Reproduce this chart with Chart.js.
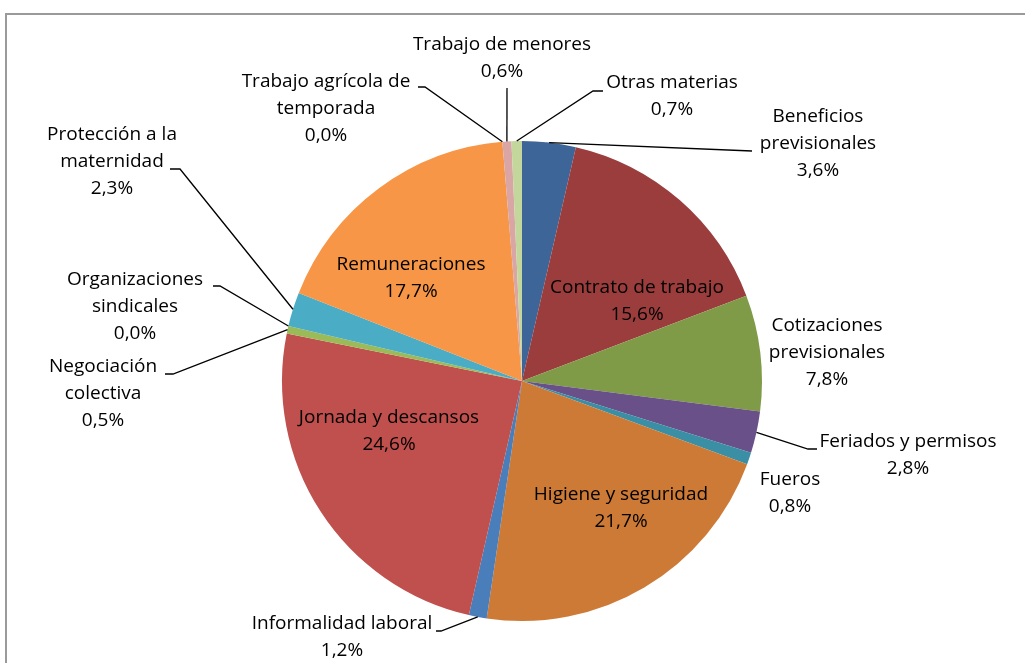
<!DOCTYPE html>
<html>
<head>
<meta charset="utf-8">
<script src="https://cdn.jsdelivr.net/npm/chart.js@4.4.0/dist/chart.umd.min.js"></script>
<style>
    html, body { margin: 0; padding: 0; background: #fff; }
    #wrap { width: 1025px; height: 663px; position: relative; }
</style>
</head>
<body>
<div id="wrap"><canvas id="pie-chart"></canvas></div>
<script>
/* Chart data */
const CATEGORIES = [
    'Beneficios previsionales',
    'Contrato de trabajo',
    'Cotizaciones previsionales',
    'Feriados y permisos',
    'Fueros',
    'Higiene y seguridad',
    'Informalidad laboral',
    'Jornada y descansos',
    'Negociación colectiva',
    'Organizaciones sindicales',
    'Protección a la maternidad',
    'Remuneraciones',
    'Trabajo agrícola de temporada',
    'Trabajo de menores',
    'Otras materias'
];

const VALUES = [3.6, 15.6, 7.8, 2.8, 0.8, 21.7, 1.2, 24.6, 0.5, 0.0, 2.3, 17.7, 0.0, 0.6, 0.7];

const COLORS = [
    '#3e6597', '#9c3d3d', '#7f9b48', '#6a5088', '#3a8fa5',
    '#cd7a37', '#4a7ebb', '#c0504d', '#9bbb59', '#8064a2',
    '#4bacc6', '#f79646', '#aabad7', '#d9a6a5', '#c3d69b'
];

/* Label layout: center x, y of first line, words per line, leader elbow + tail */
const LABEL_LAYOUT = [
    { x: 818, y: 117, wrap: [1, 1], elbow: [752, 151], tail: null },
    { x: 637, y: 288, wrap: [3] },
    { x: 827, y: 326, wrap: [1, 1] },
    { x: 908, y: 442, wrap: [3], elbow: [808, 449], tail: 817 },
    { x: 790, y: 480, wrap: [1] },
    { x: 621, y: 495, wrap: [3] },
    { x: 342, y: 624, wrap: [2], elbow: [441, 631], tail: 436 },
    { x: 389, y: 418, wrap: [3] },
    { x: 103, y: 367, wrap: [1, 1], elbow: [173, 374], tail: 165 },
    { x: 135, y: 280, wrap: [1, 1], elbow: [220, 286], tail: 213 },
    { x: 112, y: 135, wrap: [3, 1], elbow: [180, 169], tail: 170 },
    { x: 411, y: 265, wrap: [1] },
    { x: 326, y: 82, wrap: [3, 1], elbow: [425, 87], tail: 418 },
    { x: 502, y: 45, wrap: [3], elbow: [507, 88], tail: null },
    { x: 672, y: 83, wrap: [2], elbow: [593, 91], tail: 603 }
];

const LINE_HEIGHT = 27;
const FONT = '19px "Open Sans", sans-serif';

function splitLines(name, wrap) {
    const words = name.split(' ');
    const lines = [];
    let i = 0;
    for (const n of wrap) {
        lines.push(words.slice(i, i + n).join(' '));
        i += n;
    }
    if (i < words.length) lines.push(words.slice(i).join(' '));
    return lines;
}

/* Frame round the chart */
const framePlugin = {
    id: 'frame',
    beforeDraw(chart) {
        const ctx = chart.ctx;
        ctx.save();
        ctx.strokeStyle = '#9a9a9a';
        ctx.lineWidth = 2;
        ctx.strokeRect(6, 14, 1100, 700);
        ctx.restore();
    }
};

/* Data labels with leader lines */
const labelPlugin = {
    id: 'pieLabels',
    afterDatasetsDraw(chart) {
        const ctx = chart.ctx;
        const meta = chart.getDatasetMeta(0);
        ctx.save();
        ctx.font = FONT;
        ctx.fillStyle = '#000';
        ctx.textAlign = 'center';
        ctx.textBaseline = 'middle';
        meta.data.forEach((arc, i) => {
            const lay = LABEL_LAYOUT[i];
            const value = VALUES[i].toFixed(1).replace('.', ',') + '%';
            const lines = splitLines(CATEGORIES[i], lay.wrap).concat([value]);
            lines.forEach((txt, k) => {
                ctx.fillText(txt, lay.x, lay.y + k * LINE_HEIGHT);
            });
            if (lay.elbow) {
                const mid = (arc.startAngle + arc.endAngle) / 2;
                const sx = arc.x + Math.cos(mid) * arc.outerRadius;
                const sy = arc.y + Math.sin(mid) * arc.outerRadius;
                ctx.beginPath();
                ctx.strokeStyle = '#000';
                ctx.lineWidth = 1.3;
                ctx.moveTo(sx, sy);
                ctx.lineTo(lay.elbow[0], lay.elbow[1]);
                if (lay.tail !== null && lay.tail !== undefined) {
                    ctx.lineTo(lay.tail, lay.elbow[1]);
                }
                ctx.stroke();
            }
        });
        ctx.restore();
    }
};

function initPieChart() {
    const ctx = document.getElementById('pie-chart');
    return new Chart(ctx, {
        type: 'pie',
        data: {
            labels: CATEGORIES,
            datasets: [{
                data: VALUES,
                backgroundColor: COLORS,
                borderWidth: 0
            }]
        },
        options: {
            responsive: true,
            maintainAspectRatio: false,
            animation: false,
            layout: {
                padding: { left: 282, right: 263, top: 141, bottom: 42 }
            },
            plugins: {
                legend: { display: false },
                tooltip: { enabled: false }
            }
        },
        plugins: [framePlugin, labelPlugin]
    });
}

var pieChart = initPieChart();
</script>
</body>
</html>
